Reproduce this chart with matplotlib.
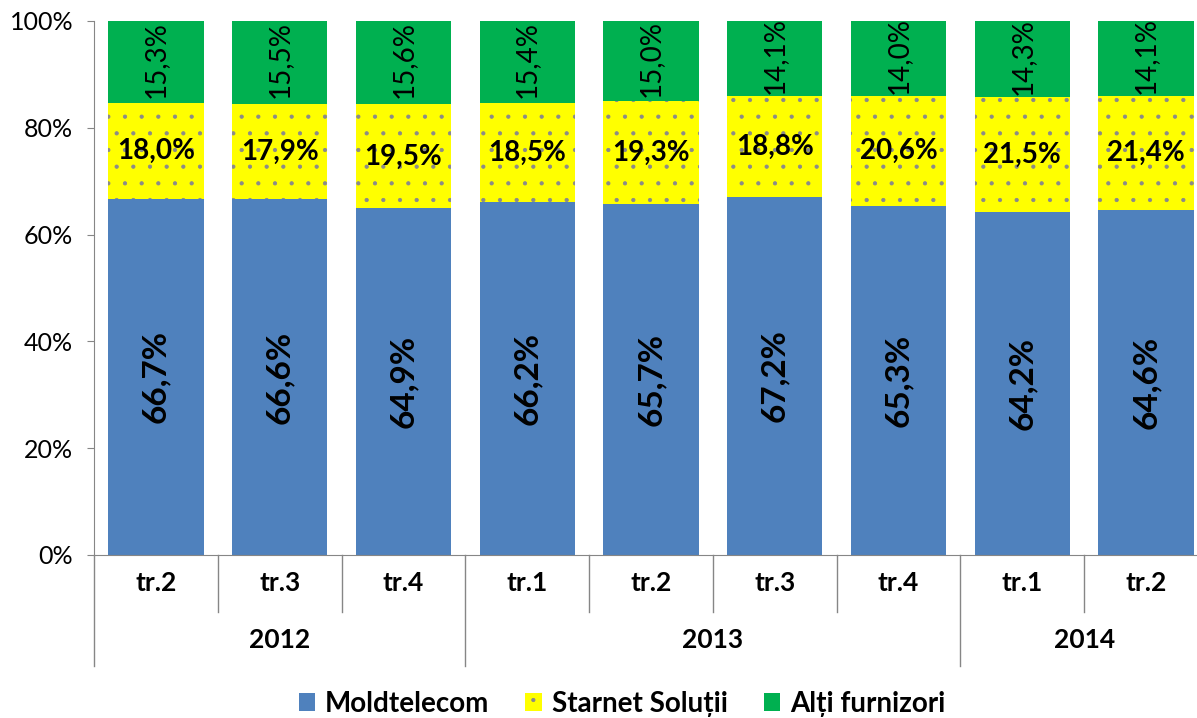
import numpy as np
import matplotlib
matplotlib.use("Agg")
import matplotlib.pyplot as plt
import matplotlib.transforms as mtransforms
from matplotlib.patches import Patch

plt.rcParams["font.family"] = ["Lato", "DejaVu Sans"]
plt.rcParams["hatch.color"] = "#8a8a8a"
plt.rcParams["hatch.linewidth"] = 0.6

# date
quarters = ["tr.2", "tr.3", "tr.4", "tr.1", "tr.2", "tr.3", "tr.4", "tr.1", "tr.2"]
years = ["2012", "2013", "2014"]
year_counts = [3, 4, 2]

moldtelecom = [66.7, 66.6, 64.9, 66.2, 65.7, 67.2, 65.3, 64.2, 64.6]
starnet = [18.0, 17.9, 19.5, 18.5, 19.3, 18.8, 20.6, 21.5, 21.4]
altii = [15.3, 15.5, 15.6, 15.4, 15.0, 14.1, 14.0, 14.3, 14.1]

series_names = ["Moldtelecom", "Starnet Soluții", "Alți furnizori"]
colors = ["#4F81BD", "#FFFF00", "#00B050"]

m = np.array(moldtelecom)
s = np.array(starnet)
a = np.array(altii)
tot = m + s + a
# 100% stacked, ca in Excel
mp = m / tot * 100
sp = s / tot * 100
ap = a / tot * 100

fig = plt.figure(figsize=(11.97, 7.18), dpi=100)
# graficul e taiat in dreapta, ca in original
ax = fig.add_axes([94 / 1197, 1 - 555 / 718, (1208 - 94) / 1197, 534 / 718])

x = np.arange(len(quarters))
w = 0.77
ax.bar(x, mp, w, color=colors[0], linewidth=0)
ax.bar(x, sp, w, bottom=mp, color=colors[1], edgecolor="#8a8a8a",
       linewidth=0, hatch=".")
ax.bar(x, ap, w, bottom=mp + sp, color=colors[2], linewidth=0)

for i in range(len(x)):
    ax.text(x[i], mp[i] / 2, f"{moldtelecom[i]:.1f}%".replace(".", ","),
            rotation=90, ha="center", va="center", fontsize=24,
            fontweight="bold")
    ax.text(x[i], mp[i] + sp[i] / 2, f"{starnet[i]:.1f}%".replace(".", ","),
            ha="center", va="center", fontsize=20, fontweight="bold")
    ax.text(x[i], mp[i] + sp[i] + ap[i] / 2 + 0.5, f"{altii[i]:.1f}%".replace(".", ","),
            rotation=90, ha="center", va="center", fontsize=20)

ax.set_xlim(-0.5, len(x) - 0.5)
ax.set_ylim(0, 100)
ax.set_yticks([0, 20, 40, 60, 80, 100])
ax.set_yticklabels([f"{v}%" for v in [0, 20, 40, 60, 80, 100]], fontsize=18)
ax.tick_params(axis="y", length=5, color="#868686", pad=10)
ax.set_xticks([])

for sp_name in ["top", "right"]:
    ax.spines[sp_name].set_visible(False)
ax.spines["left"].set_color("#868686")
ax.spines["bottom"].set_color("#868686")

# axa x pe doua niveluri
trans = mtransforms.blended_transform_factory(ax.transData, ax.transAxes)
for i, q in enumerate(quarters):
    ax.text(i, -0.053, q, transform=trans, ha="center", va="center",
            fontsize=19, fontweight="bold")

bounds = np.cumsum([0] + year_counts) - 0.5
for b in np.arange(-0.5, len(x), 1.0):
    bottom = -0.208 if b in bounds else -0.107
    ax.plot([b, b], [0, bottom], transform=trans, color="#868686",
            lw=1, clip_on=False)

for j, yr in enumerate(years):
    mid = (bounds[j] + bounds[j + 1]) / 2
    ax.text(mid, -0.16, yr, transform=trans, ha="center", va="center",
            fontsize=19, fontweight="bold")

handles = [Patch(facecolor=colors[0]),
           Patch(facecolor=colors[1], hatch=".", edgecolor="#8a8a8a", linewidth=0),
           Patch(facecolor=colors[2])]
fig.legend(handles, series_names, loc="center", bbox_to_anchor=(622 / 1197, 1 - 704 / 718),
           ncol=3, frameon=False, prop={"size": 20, "weight": "bold"},
           handlelength=0.6, handleheight=0.6, handletextpad=0.35, columnspacing=1.3)

fig.savefig("out.png", dpi=100)
